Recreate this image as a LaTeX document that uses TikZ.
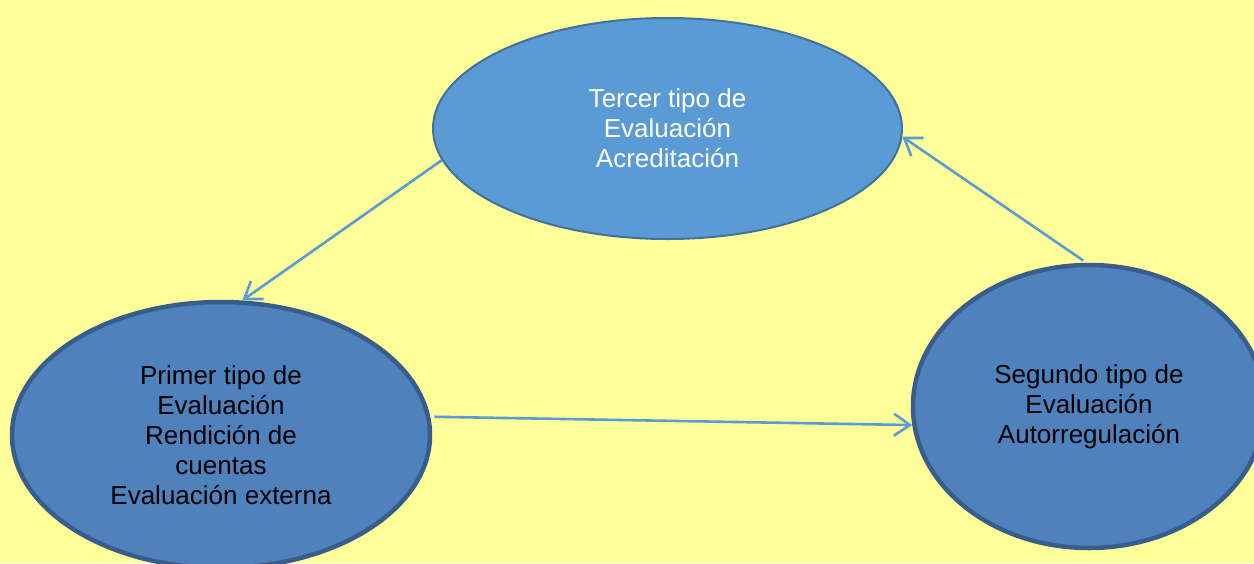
\documentclass[tikz,border=0pt]{standalone}
\usepackage{fontspec}
\setmainfont{Liberation Sans}
\usetikzlibrary{shapes.geometric,arrows.meta}
\definecolor{bgyellow}{HTML}{FFFF99}
\definecolor{topfill}{HTML}{5B9BD5}
\definecolor{topline}{HTML}{41719C}
\definecolor{sidefill}{HTML}{4F81BD}
\definecolor{sideline}{HTML}{385D8A}
\definecolor{arrowblue}{HTML}{5B9BD5}
\tikzset{
  bubble/.style={ellipse, inner sep=0pt, align=center,
    font=\fontsize{26}{30}\selectfont},
  topbubble/.style={bubble, fill=topfill, draw=topline, line width=2pt, text=white},
  sidebubble/.style={bubble, fill=sidefill, draw=sideline, line width=4.5pt, text=black},
  flow/.style={draw=arrowblue, line width=2.6pt,
    -{Straight Barb[length=16pt,width=22pt,line width=2.6pt]}}
}
\begin{document}
\begin{tikzpicture}[x=1pt,y=-1pt]
\clip (0,0) rectangle (1254,563);
\fill[bgyellow] (0,0) rectangle (1254,563);
\useasboundingbox (0,0) rectangle (1254,563);
\node[topbubble, minimum width=469pt, minimum height=221pt] (tercer) at (667.5,128.5)
  {Tercer tipo de\\Evaluación\\Acreditación};
\node[sidebubble, minimum width=418pt, minimum height=266pt] (primer) at (221,435)
  {Primer tipo de\\Evaluación\\Rendición de\\cuentas\\Evaluación externa};
\node[sidebubble, minimum width=352pt, minimum height=283pt] (segundo) at (1089,406.5)
  {Segundo tipo de\\Evaluación\\Autorregulación};
\draw[flow] (tercer.188.5) -- (primer.81);
\draw[flow, shorten <=4pt] (primer.5) -- (segundo.186);
\draw[flow, shorten <=4pt] (segundo.91) -- (tercer.-2);
\end{tikzpicture}
\end{document}
